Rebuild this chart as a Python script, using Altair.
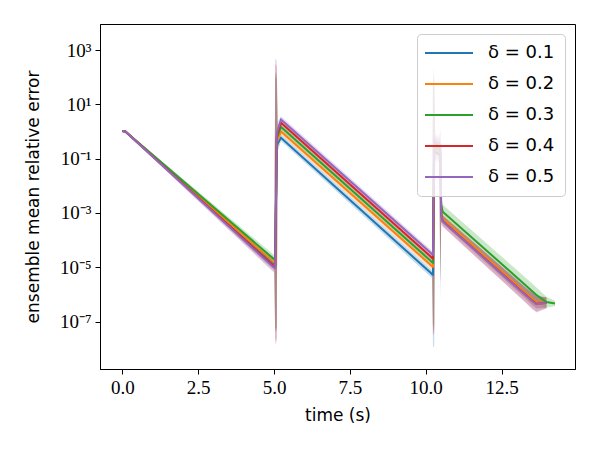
import altair as alt
import pandas as pd

# time grid shared by all series (s)
TIME = [0.0, 0.1, 4.98, 5.01, 5.04, 5.09, 5.12, 5.23, 10.18, 10.21, 10.24,
        10.28, 10.31, 10.45, 10.48, 10.51, 10.56, 13.3, 13.5, 13.65, 13.98, 14.26]

LABELS = ["δ = 0.1", "δ = 0.2", "δ = 0.3", "δ = 0.4", "δ = 0.5"]
COLORS = ["#1f77b4", "#ff7f0e", "#2ca02c", "#d62728", "#9467bd"]

# log10 of the ensemble mean relative error (None = no point)
LOG_MEAN = {
    "δ = 0.1": [0.02, 0.0, -4.85, -4.87, -4.88, -0.6, -0.45, -0.23, -5.22, -5.26, -5.27,
                -0.7, -0.75, -0.85, -0.9, -3.0, -3.25, -5.97, -6.17, -6.3, -6.3, None],
    "δ = 0.2": [0.02, 0.0, -4.8, -4.82, -4.83, -0.45, -0.3, 0.0, -4.93, -4.97, -4.98,
                -0.6, -0.65, -0.75, -0.8, -2.95, -3.2, -5.95, -6.15, -6.28, -6.3, None],
    "δ = 0.3": [0.02, 0.0, -4.68, -4.7, -4.71, -0.3, -0.15, 0.17, -4.78, -4.82, -4.83,
                -0.5, -0.55, -0.65, -0.7, -2.7, -2.95, -5.67, -5.87, -6.02, -6.28, -6.33],
    "δ = 0.4": [0.02, 0.0, -4.95, -4.97, -4.98, -0.2, -0.05, 0.32, -4.62, -4.66, -4.67,
                -0.4, -0.45, -0.55, -0.6, -3.05, -3.3, -6.02, -6.22, -6.34, -6.31, None],
    "δ = 0.5": [0.02, 0.0, -5.0, -5.02, -5.03, -0.1, 0.05, 0.44, -4.48, -4.52, -4.53,
                -0.3, -0.35, -0.45, -0.5, -3.05, -3.3, -6.03, -6.23, -6.36, -6.31, None],
}

# half width of the confidence band, in decades (spike points are set below)
LOG_HALF = {
    "δ = 0.1": [0.04, 0.04, 0.15, 0.15, 0, 0, 0.3, 0.12, 0.15, 0.15, 0,
                0, 0.3, 0.3, 0, 0.3, 0.15, 0.2, 0.22, 0.22, 0.2, 0.1],
    "δ = 0.2": [0.04, 0.04, 0.15, 0.15, 0, 0, 0.3, 0.12, 0.12, 0.12, 0,
                0, 0.3, 0.3, 0, 0.3, 0.15, 0.2, 0.22, 0.22, 0.2, 0.1],
    "δ = 0.3": [0.04, 0.04, 0.15, 0.15, 0, 0, 0.3, 0.12, 0.12, 0.12, 0,
                0, 0.3, 0.3, 0, 0.3, 0.25, 0.28, 0.28, 0.28, 0.2, 0.1],
    "δ = 0.4": [0.04, 0.04, 0.18, 0.18, 0, 0, 0.3, 0.12, 0.12, 0.12, 0,
                0, 0.3, 0.3, 0, 0.3, 0.2, 0.28, 0.3, 0.3, 0.2, 0.1],
    "δ = 0.5": [0.04, 0.04, 0.18, 0.18, 0, 0, 0.3, 0.12, 0.12, 0.12, 0,
                0, 0.3, 0.3, 0, 0.3, 0.2, 0.28, 0.3, 0.3, 0.2, 0.1],
}

# band extremes at the spikes (indices of TIME), log10
SPIKE_IDX = [4, 5, 10, 11, 14]
SPIKE_LO = {
    "δ = 0.1": [-7.3, -7.2, -7.95, -7.9, -6.3],
    "δ = 0.2": [-7.3, -7.2, -7.3, -7.2, -5.5],
    "δ = 0.3": [-7.4, -7.3, -7.2, -7.1, -5.5],
    "δ = 0.4": [-7.85, -7.7, -7.5, -7.4, -5.6],
    "δ = 0.5": [-7.7, -7.6, -7.4, -7.3, -5.6],
}
SPIKE_HI = {
    "δ = 0.1": [2.0, 1.9, 1.8, 1.7, 0.0],
    "δ = 0.2": [2.1, 2.0, 1.9, 1.8, 0.0],
    "δ = 0.3": [2.2, 2.1, 2.0, 1.9, 0.0],
    "δ = 0.4": [2.5, 2.4, 2.1, 2.0, 0.1],
    "δ = 0.5": [2.7, 2.6, 2.3, 2.2, 0.3],
}

rows = []
for lab in LABELS:
    for i, t in enumerate(TIME):
        m = LOG_MEAN[lab][i]
        if m is None:
            continue
        if i in SPIKE_IDX:
            k = SPIKE_IDX.index(i)
            lo, hi = SPIKE_LO[lab][k], SPIKE_HI[lab][k]
        else:
            h = LOG_HALF[lab][i]
            lo, hi = m - h, m + h
        rows.append({"t": t, "series": lab, "v": 10 ** m, "lo": 10 ** lo, "hi": 10 ** hi})
df = pd.DataFrame(rows)

Y_TICKS = [1e3, 1e1, 1e-1, 1e-3, 1e-5, 1e-7]
SUP = {3: "³", 1: "¹", -1: "⁻¹", -3: "⁻³", -5: "⁻⁵", -7: "⁻⁷"}
expr = "''"
for e, s in SUP.items():
    expr = f"round(log(datum.value)/LN10) == {e} ? '{s}' : ({expr})"
label_expr = "'10' + (" + expr + ")"

x_enc = alt.X("t:Q", title="time (s)",
              scale=alt.Scale(domain=[-0.735, 14.92], nice=False, zero=False),
              axis=alt.Axis(values=[0, 2.5, 5, 7.5, 10, 12.5], format=".1f"))
y_scale = alt.Scale(type="log", domain=[10 ** -8.745, 10 ** 3.96], nice=False)
color_scale = alt.Scale(domain=LABELS, range=COLORS)

legend = alt.Legend(orient="top-right", offset=10, title=None,
                    symbolType="M -3 0 L 3 0", symbolSize=256,
                    symbolStrokeWidth=2, symbolOffset=13, symbolOpacity=1,
                    labelOffset=30, labelFontSize=18,
                    labelFont="DejaVu Sans", labelColor="black",
                    rowPadding=13, padding=10,
                    fillColor="rgba(255,255,255,0.8)",
                    strokeColor="#cccccc", cornerRadius=4)

band = alt.Chart(df).mark_area(opacity=0.25, clip=True, interpolate="linear").encode(
    x=x_enc,
    y=alt.Y("lo:Q", scale=y_scale, title="ensemble mean relative error",
            axis=alt.Axis(values=Y_TICKS, labelExpr=label_expr)),
    y2="hi:Q",
    color=alt.Color("series:N", scale=color_scale, legend=legend),
    detail="series:N",
)

line = alt.Chart(df).mark_line(strokeWidth=2, clip=True).encode(
    x=x_enc,
    y=alt.Y("v:Q", scale=y_scale),
    color=alt.Color("series:N", scale=color_scale, legend=legend),
    detail="series:N",
)

chart = alt.layer(band, line).properties(
    width=475, height=345,
    autosize=alt.AutoSizeParams(type="none"),
    padding={"left": 92, "top": 16, "right": 9, "bottom": 60},
).configure_view(
    stroke="black", strokeWidth=1
).configure_axis(
    grid=False, domainColor="black", tickColor="black", tickSize=5,
    labelFont="Liberation Serif", labelFontSize=19, labelColor="black",
    labelPadding=4, titleFont="DejaVu Sans", titleFontSize=17,
    titleFontWeight="normal", titleColor="black", domain=True,
).configure_axisY(titlePadding=17).configure_axisX(titlePadding=10)

chart.save("out.html", embed_options={"renderer": "svg", "actions": False})
